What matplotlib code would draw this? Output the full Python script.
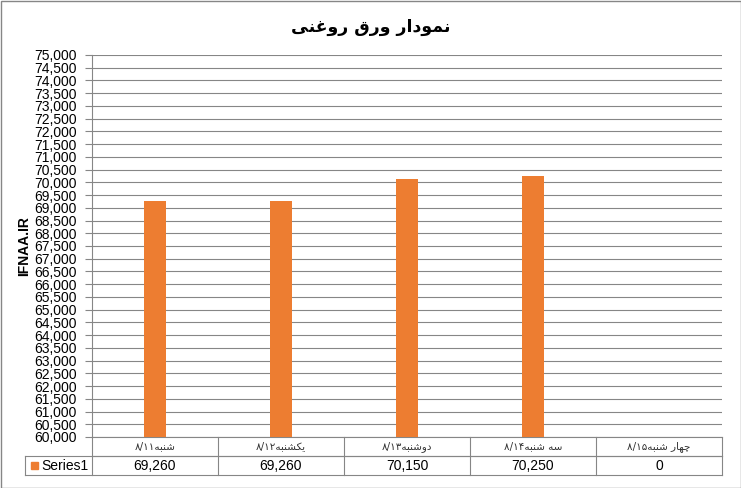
import matplotlib
matplotlib.use("Agg")
import matplotlib.pyplot as plt
import matplotlib.transforms as mtransforms
from matplotlib.patches import Rectangle
from matplotlib.ticker import MultipleLocator, FuncFormatter

# data
title = "نمودار ورق روغنی"
days = ["شنبه", "یکشنبه", "دوشنبه", "سه شنبه", "چهار شنبه"]
dates = ["۸/۱۱", "۸/۱۲", "۸/۱۳", "۸/۱۴", "۸/۱۵"]
values = [69260, 69260, 70150, 70250, 0]
series_name = "Series1"
y_label = "IFNAA.IR"

# minimal persian shaping (matplotlib has no bidi / joining)
FORMS = {
    'ا': ('\uFE8D', '\uFE8E'),
    'ب': ('\uFE8F', '\uFE90', '\uFE91', '\uFE92'),
    'د': ('\uFEA9', '\uFEAA'),
    'ر': ('\uFEAD', '\uFEAE'),
    'س': ('\uFEB1', '\uFEB2', '\uFEB3', '\uFEB4'),
    'ش': ('\uFEB5', '\uFEB6', '\uFEB7', '\uFEB8'),
    'غ': ('\uFECD', '\uFECE', '\uFECF', '\uFED0'),
    'ق': ('\uFED5', '\uFED6', '\uFED7', '\uFED8'),
    'م': ('\uFEE1', '\uFEE2', '\uFEE3', '\uFEE4'),
    'ن': ('\uFEE5', '\uFEE6', '\uFEE7', '\uFEE8'),
    'ه': ('\uFEE9', '\uFEEA', '\uFEEB', '\uFEEC'),
    'و': ('\uFEED', '\uFEEE'),
    'ی': ('\uFBFC', '\uFBFD', '\uFBFE', '\uFBFF'),
    'ک': ('\uFB8E', '\uFB8F', '\uFB90', '\uFB91'),
    'چ': ('\uFB7A', '\uFB7B', '\uFB7C', '\uFB7D'),
}


def shape(s):
    out = []
    for i, ch in enumerate(s):
        f = FORMS.get(ch)
        if f is None:
            out.append(ch)
            continue
        prev = s[i - 1] if i > 0 else None
        nxt = s[i + 1] if i + 1 < len(s) else None
        jp = prev in FORMS and len(FORMS[prev]) == 4
        jn = len(f) == 4 and nxt in FORMS
        if jp and jn:
            out.append(f[3])
        elif jp:
            out.append(f[1])
        elif jn:
            out.append(f[2])
        else:
            out.append(f[0])
    return "".join(reversed(out))


FONT = ['Liberation Sans', 'DejaVu Sans']
plt.rcParams['font.family'] = FONT

W, H = 741, 488
fig = plt.figure(figsize=(W / 100, H / 100), dpi=100)
L, R, T, B = 92, 722, 55, 437
ax = fig.add_axes([L / W, 1 - B / H, (R - L) / W, (B - T) / H])

orange = '#ED7D31'
gray = '#868686'
x = list(range(len(values)))
ax.bar(x, values, width=0.175, color=orange, zorder=3)

ax.set_xlim(-0.5, len(values) - 0.5)
ax.set_ylim(60000, 75000)
ax.yaxis.set_major_locator(MultipleLocator(500))
ax.yaxis.set_major_formatter(FuncFormatter(lambda v, p: f"{int(v):,}"))
ax.grid(axis='y', color=gray, linewidth=0.8, zorder=0)
ax.set_xticks([])
ax.tick_params(axis='y', length=5, width=0.8, color=gray, pad=6, labelsize=10)
for s in ['top', 'right']:
    ax.spines[s].set_visible(False)
for s in ['left', 'bottom']:
    ax.spines[s].set_color(gray)
    ax.spines[s].set_linewidth(0.8)

ax.set_ylabel(y_label, fontsize=10, fontweight='bold')
ax.yaxis.set_label_coords((31 - L) / (R - L), 0.5)

fig.text(0.5, 1 - 27 / H, shape(title), ha='center', va='center',
         fontsize=12.5, fontweight='bold', family=['DejaVu Sans'])

# data table below the axes
tr = mtransforms.blended_transform_factory(ax.transData, fig.transFigure)
y0, y1, y2 = 1 - B / H, 1 - 456 / H, 1 - 475 / H
xl = -0.5 - (L - 25) / ((R - L) / len(values))
xr = len(values) - 0.5
ln = dict(color=gray, linewidth=0.8, transform=tr, clip_on=False)
ax.plot([-0.5, xr], [y1, y1], **ln)
ax.plot([xl, xr], [y1, y1], **ln)
ax.plot([xl, xr], [y2, y2], **ln)
ax.plot([xl, xl], [y1, y2], **ln)
for i in range(len(values) + 1):
    ax.plot([i - 0.5, i - 0.5], [y0, y2], **ln)

for i, (d, dt, v) in enumerate(zip(days, dates, values)):
    ax.text(i, (y0 + y1) / 2, dt + shape(d), ha='center', va='center',
            fontsize=7.5, transform=tr, family=['DejaVu Sans'], color='#333333')
    ax.text(i, (y1 + y2) / 2, f"{v:,}", ha='center', va='center',
            fontsize=10, transform=tr)

fig.patches.append(Rectangle((31 / W, 1 - 469 / H), 7 / W, 7 / H,
                             transform=fig.transFigure, color=orange))
fig.text(41 / W, (y1 + y2) / 2, series_name, ha='left', va='center', fontsize=10)

fig.patches.append(Rectangle((0.5 / W, 0.5 / H), (W - 1) / W, (H - 1) / H,
                             transform=fig.transFigure, fill=False,
                             edgecolor=gray, linewidth=1))

fig.savefig("out.png", dpi=100)
